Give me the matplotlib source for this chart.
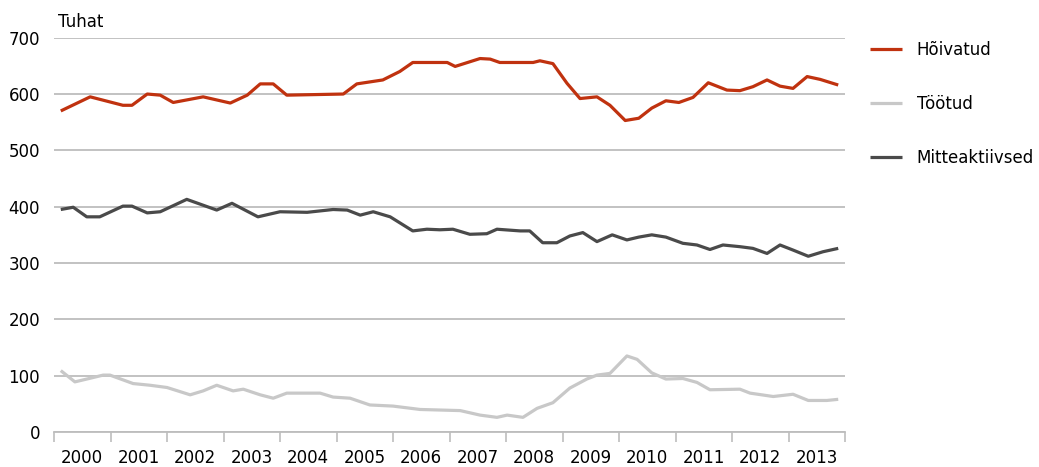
import matplotlib.pyplot as plt
import numpy as np

# Hõivatud (employed), thousands
hoiv_x = [2000.12, 2000.64, 2001.22, 2001.38, 2001.65, 2001.88, 2002.11, 2002.64, 2003.12,
          2003.42, 2003.65, 2003.88, 2004.12, 2005.12, 2005.36, 2005.82, 2006.12, 2006.35,
          2006.96, 2007.10, 2007.54, 2007.72, 2007.89, 2008.48, 2008.60, 2008.83, 2009.08,
          2009.31, 2009.61, 2009.84, 2010.11, 2010.35, 2010.58, 2010.83, 2011.06, 2011.31,
          2011.58, 2011.91, 2012.14, 2012.37, 2012.62, 2012.85, 2013.08, 2013.33, 2013.56,
          2013.88]
hoiv_y = [570, 595, 580, 580, 600, 598, 585, 595, 584,
          598, 618, 618, 598, 600, 618, 625, 640, 656,
          656, 649, 663, 662, 656, 656, 659, 654, 619,
          592, 595, 580, 553, 557, 575, 588, 585, 594,
          620, 607, 606, 613, 625, 614, 610, 631, 626,
          616]

# Töötud (unemployed)
toot_x = [2000.12, 2000.37, 2000.58, 2000.87, 2000.99, 2001.40, 2001.70, 2002.00, 2002.41,
          2002.64, 2002.88, 2003.17, 2003.35, 2003.65, 2003.88, 2004.12, 2004.71, 2004.94,
          2005.24, 2005.59, 2006.00, 2006.48, 2007.19, 2007.54, 2007.84, 2008.02, 2008.30,
          2008.55, 2008.83, 2009.13, 2009.43, 2009.61, 2009.84, 2010.14, 2010.32, 2010.58,
          2010.83, 2011.13, 2011.38, 2011.61, 2012.14, 2012.32, 2012.73, 2013.08, 2013.35,
          2013.68, 2013.88]
toot_y = [109, 89, 94, 101, 101, 86, 83, 79, 66,
          73, 83, 73, 76, 66, 60, 69, 69, 62,
          60, 48, 46, 40, 38, 30, 26, 30, 26,
          42, 52, 78, 94, 101, 104, 135, 129, 105,
          94, 95, 88, 75, 76, 69, 63, 67, 56,
          56, 58]

# Mitteaktiivsed (inactive)
mitte_x = [2000.12, 2000.34, 2000.58, 2000.81, 2001.22, 2001.38, 2001.65, 2001.88, 2002.35,
           2002.88, 2003.15, 2003.61, 2004.00, 2004.48, 2004.94, 2005.19, 2005.42, 2005.65,
           2005.95, 2006.35, 2006.60, 2006.83, 2007.06, 2007.36, 2007.66, 2007.84, 2008.25,
           2008.42, 2008.65, 2008.90, 2009.13, 2009.36, 2009.61, 2009.88, 2010.14, 2010.35,
           2010.58, 2010.83, 2011.13, 2011.38, 2011.61, 2011.84, 2012.14, 2012.37, 2012.62,
           2012.85, 2013.08, 2013.35, 2013.61, 2013.88]
mitte_y = [395, 399, 382, 382, 401, 401, 389, 391, 413,
           394, 406, 382, 391, 390, 395, 394, 385, 391,
           382, 357, 360, 359, 360, 351, 352, 360, 357,
           357, 336, 336, 348, 354, 338, 350, 341, 346,
           350, 346, 335, 332, 324, 332, 329, 326, 317,
           332, 323, 312, 320, 326]

years = list(range(2000, 2014))

red = '#c0320f'
light = '#c8c8c8'
dark = '#4a4a4a'
grid = '#bdbdbd'

plt.rcParams['font.family'] = 'DejaVu Sans'

fig = plt.figure(figsize=(10.39, 4.67), dpi=100)
ax = fig.add_axes([54 / 1039, 1 - 432 / 467, (845 - 54) / 1039, (432 - 37.7) / 467])

ax.plot(hoiv_x, hoiv_y, color=red, lw=2.3, label='Hõivatud', solid_capstyle='butt')
ax.plot(toot_x, toot_y, color=light, lw=2.3, label='Töötud', solid_capstyle='butt')
ax.plot(mitte_x, mitte_y, color=dark, lw=2.3, label='Mitteaktiivsed', solid_capstyle='butt')

ax.set_xlim(2000, 2014)
ax.set_ylim(0, 700)
ax.set_yticks(range(0, 701, 100))
ax.yaxis.grid(True, color=grid, lw=1.3)
ax.set_axisbelow(True)

ax.set_xticks(range(2000, 2015))
ax.set_xticklabels([])
ax.set_xticks([y + 0.5 for y in years], minor=True)
ax.set_xticklabels([str(y) for y in years], minor=True)
ax.tick_params(axis='x', which='major', length=7, width=1.2, color=grid, direction='out')
ax.tick_params(axis='x', which='minor', length=0, pad=12, labelsize=12, labelcolor='black')
ax.tick_params(axis='y', length=0, pad=10, labelsize=12)

for s in ['left', 'right', 'top']:
    ax.spines[s].set_visible(False)
ax.spines['bottom'].set_color(grid)
ax.spines['bottom'].set_linewidth(1.3)

fig.text(58 / 1039, 1 - 22 / 467, 'Tuhat', fontsize=12, va='center', ha='left')

fig.legend(loc='upper left', bbox_to_anchor=(870 / 1039, 1 - 41 / 467), frameon=False,
           fontsize=12, handlelength=1.9, handletextpad=0.9, labelspacing=2.15,
           borderpad=0, borderaxespad=0)

fig.savefig('out.png', dpi=100)
